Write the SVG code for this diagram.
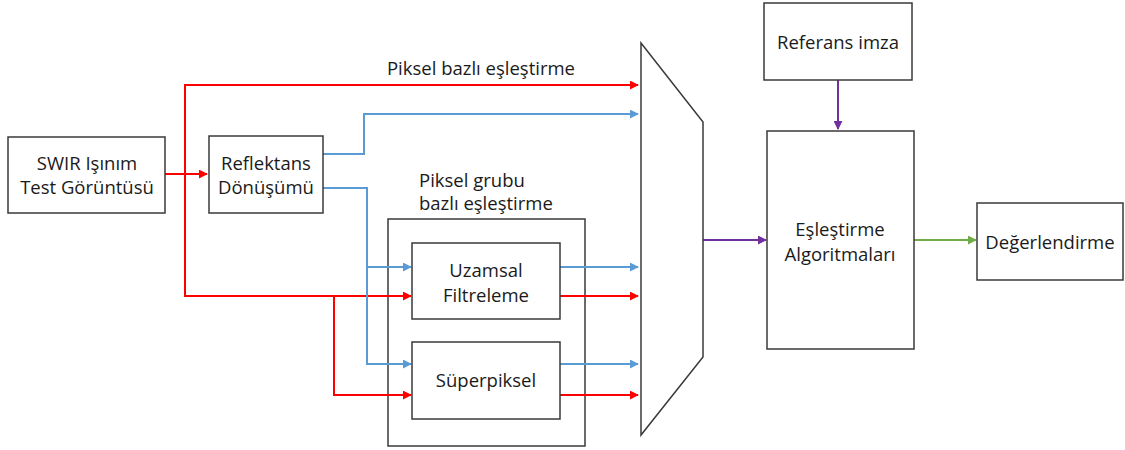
<svg xmlns="http://www.w3.org/2000/svg" width="1125" height="450" viewBox="0 0 1125 450">
<style>
.box{fill:#fff;stroke:#3a3a3a;stroke-width:1.5}
.t{font-family:"Open Sans","Liberation Sans",sans-serif;font-size:18.5px;fill:#1a1a1a;text-anchor:middle}
.tl{text-anchor:start}
.r{fill:none;stroke:#ff0000;stroke-width:2}
.b{fill:none;stroke:#5b9bd5;stroke-width:2}
.p{fill:none;stroke:#7030a0;stroke-width:2}
.g{fill:none;stroke:#70ad47;stroke-width:2}
</style>
<defs>
<marker id="ar" viewBox="0 0 10 10" refX="9" refY="5" markerWidth="4.5" markerHeight="4.5" orient="auto"><path d="M0,0L10,5L0,10z" fill="#ff0000"/></marker>
<marker id="ab" viewBox="0 0 10 10" refX="9" refY="5" markerWidth="4.5" markerHeight="4.5" orient="auto"><path d="M0,0L10,5L0,10z" fill="#5b9bd5"/></marker>
<marker id="ap" viewBox="0 0 10 10" refX="9" refY="5" markerWidth="4.5" markerHeight="4.5" orient="auto"><path d="M0,0L10,5L0,10z" fill="#7030a0"/></marker>
<marker id="ag" viewBox="0 0 10 10" refX="9" refY="5" markerWidth="4.5" markerHeight="4.5" orient="auto"><path d="M0,0L10,5L0,10z" fill="#70ad47"/></marker>
</defs>

<g id="group-box">
<rect class="box" x="388" y="219" width="197" height="227"/>
<text class="t tl" x="419" y="187">Piksel grubu</text>
<text class="t tl" x="419" y="210">bazlı eşleştirme</text>
</g>

<g id="connectors">
<path class="r" d="M165,174H207" marker-end="url(#ar)"/>
<path class="r" d="M185,296V85H638" marker-end="url(#ar)"/>
<path class="r" d="M185,174V296H411" marker-end="url(#ar)"/>
<path class="r" d="M334,296V395H411" marker-end="url(#ar)"/>
<path class="b" d="M323,154H364V114H638" marker-end="url(#ab)"/>
<path class="b" d="M323,188H367V267H411" marker-end="url(#ab)"/>
<path class="b" d="M367,267V364H411" marker-end="url(#ab)"/>
<path class="b" d="M560,267H638" marker-end="url(#ab)"/>
<path class="r" d="M560,296H638" marker-end="url(#ar)"/>
<path class="b" d="M560,364H638" marker-end="url(#ab)"/>
<path class="r" d="M560,395H638" marker-end="url(#ar)"/>
<path class="p" d="M838,80V129" marker-end="url(#ap)"/>
<path class="p" d="M703,240H766" marker-end="url(#ap)"/>
<path class="g" d="M914,240H976" marker-end="url(#ag)"/>
</g>

<g id="swir">
<rect class="box" x="8" y="137" width="157" height="76"/>
<text class="t" x="87" y="170">SWIR Işınım</text>
<text class="t" x="87" y="194">Test Görüntüsü</text>
</g>

<g id="reflektans">
<rect class="box" x="209" y="136" width="114" height="77"/>
<text class="t" x="266" y="170">Reflektans</text>
<text class="t" x="266" y="194">Dönüşümü</text>
</g>

<text class="t" x="481" y="75">Piksel bazlı eşleştirme</text>

<g id="uzamsal">
<rect class="box" x="412" y="243" width="148" height="76"/>
<text class="t" x="486" y="277">Uzamsal</text>
<text class="t" x="486" y="302">Filtreleme</text>
</g>

<g id="superpiksel">
<rect class="box" x="412" y="342" width="148" height="77"/>
<text class="t" x="486" y="387">Süperpiksel</text>
</g>

<g id="mux">
<path class="box" d="M641,43L703,122V357L641,435Z"/>
</g>

<g id="referans">
<rect class="box" x="764" y="3" width="148" height="77"/>
<text class="t" x="838" y="49">Referans imza</text>
</g>

<g id="eslestirme">
<rect class="box" x="767" y="131" width="147" height="218"/>
<text class="t" x="840" y="236">Eşleştirme</text>
<text class="t" x="840" y="261">Algoritmaları</text>
</g>

<g id="degerlendirme">
<rect class="box" x="977" y="203" width="146" height="77"/>
<text class="t" x="1050" y="249">Değerlendirme</text>
</g>
</svg>
